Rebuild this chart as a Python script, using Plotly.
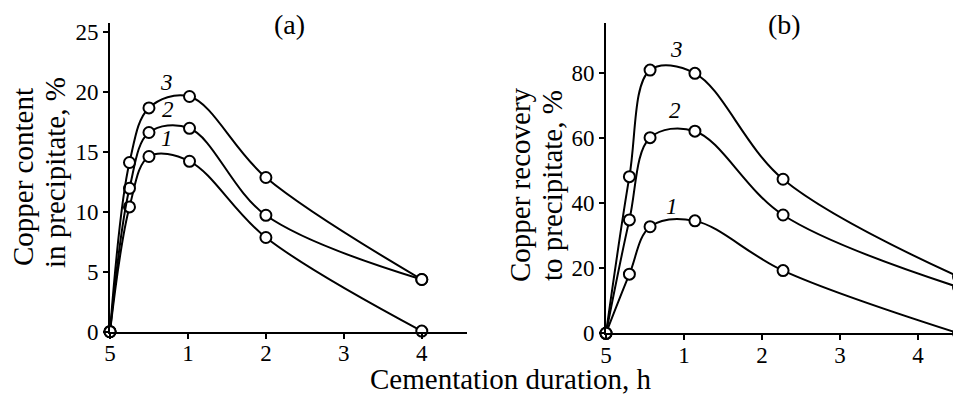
import plotly.graph_objects as go

# Panel (a): copper content in precipitate, %
xa = [0, 0.25, 0.5, 1.02, 2.0, 4.0]
a1 = [0, 10.4, 14.6, 14.2, 7.85, 0.05]
a2 = [0, 11.95, 16.6, 16.95, 9.7, 4.35]
a3 = [0, 14.1, 18.65, 19.6, 12.85, 4.35]

# Panel (b): copper recovery to precipitate, %
xb = [0, 0.3, 0.565, 1.14, 2.27, 4.52]
b1 = [0, 18.2, 32.8, 34.6, 19.3, 0]
b2 = [0, 34.9, 60.2, 62.2, 36.4, 14.2]
b3 = [0, 48.2, 81.0, 80.0, 47.4, 17.4]

x_tickvals = [0, 1, 2, 3, 4]
x_ticktext = ["5", "1", "2", "3", "4"]
ya_ticks = [0, 5, 10, 15, 20, 25]
yb_ticks = [0, 20, 40, 60, 80]

curve_labels = ["1", "2", "3"]
label_pos_a = [(0.73, 16.1), (0.74, 18.5), (0.73, 20.8)]
label_pos_b = [(0.84, 39.0), (0.89, 68.7), (0.9, 87.3)]

FONT = "Liberation Serif"
W, H = 961, 394
OFF = 8  # page body margin of the HTML


def fx(px):
    return (px - OFF) / W


def fy(py):
    return 1 - (py - OFF) / H


fig = go.Figure()

marker = dict(symbol="circle", size=11, color="white",
              line=dict(color="black", width=2))
for ys in (a1, a2, a3):
    fig.add_trace(go.Scatter(x=xa, y=ys, mode="lines+markers",
                             line=dict(color="black", width=2, shape="spline", smoothing=1.0),
                             marker=marker, cliponaxis=False, showlegend=False,
                             xaxis="x", yaxis="y"))
for ys in (b1, b2, b3):
    fig.add_trace(go.Scatter(x=xb, y=ys, mode="lines+markers",
                             line=dict(color="black", width=2, shape="spline", smoothing=1.0),
                             marker=marker, cliponaxis=False, showlegend=False,
                             xaxis="x2", yaxis="y2"))

axis_common = dict(showline=True, linecolor="black", linewidth=2, ticks="outside",
                   ticklen=5, tickwidth=1.5, tickcolor="black", showgrid=False,
                   zeroline=False, automargin=False,
                   tickfont=dict(family=FONT, size=23, color="black"))
xaxis_extra = dict(ticklabelstandoff=-5)

fig.update_layout(
    template="none",
    width=W, height=H,
    margin=dict(l=0, r=0, t=0, b=0, pad=0, autoexpand=False),
    paper_bgcolor="white", plot_bgcolor="white",
    font=dict(family=FONT, color="black"),
    xaxis=dict(domain=[fx(110), fx(467)], range=[0, 4.58], tickvals=x_tickvals,
               ticktext=x_ticktext, anchor="y", **axis_common, **xaxis_extra),
    yaxis=dict(domain=[fy(331.7), fy(23.3)], range=[0, 25.7], tickvals=ya_ticks,
               anchor="x", **axis_common),
    xaxis2=dict(domain=[fx(606), 1.0], range=[0, (W + OFF - 606) / 78.0], tickvals=x_tickvals,
                ticktext=x_ticktext, anchor="y2", **axis_common, **xaxis_extra),
    yaxis2=dict(domain=[fy(333.3), fy(23.3)], range=[0, 95.4], tickvals=yb_ticks,
                anchor="x2", **axis_common),
)

annotations = []
for lab, (x, y) in zip(curve_labels, label_pos_a):
    annotations.append(dict(x=x, y=y, xref="x", yref="y", text=f"<i>{lab}</i>",
                            showarrow=False, font=dict(family=FONT, size=23)))
for lab, (x, y) in zip(curve_labels, label_pos_b):
    annotations.append(dict(x=x, y=y, xref="x2", yref="y2", text=f"<i>{lab}</i>",
                            showarrow=False, font=dict(family=FONT, size=23)))


def paper_text(px, py, text, size, angle=0):
    return dict(x=fx(px), y=fy(py), xref="paper", yref="paper", text=text,
                showarrow=False, textangle=angle, xanchor="center", yanchor="middle",
                font=dict(family=FONT, size=size))


annotations += [
    paper_text(289, 24, "(a)", 28),
    paper_text(784.5, 24, "(b)", 28),
    paper_text(511, 379, "Cementation duration, h", 29),
    paper_text(23, 177, "Copper content", 29, -90),
    paper_text(55, 173, "in precipitate, %", 29, -90),
    paper_text(520, 185, "Copper recovery", 29, -90),
    paper_text(552, 186, "to precipitate, %", 29, -90),
]
fig.update_layout(annotations=annotations)

fig.write_html("out.html")
